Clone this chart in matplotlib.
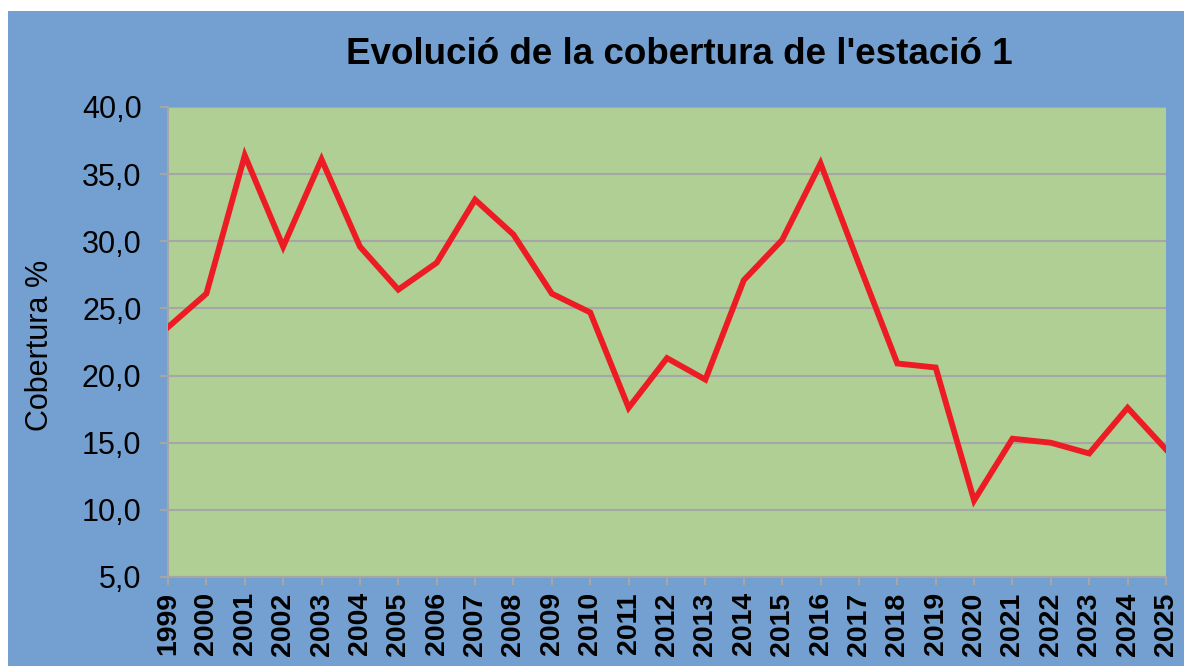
import matplotlib
matplotlib.use("Agg")
import matplotlib.pyplot as plt
from matplotlib.patches import Rectangle

years = list(range(1999, 2026))
cobertura = [23.6, 26.1, 36.4, 29.6, 36.1, 29.6, 26.4, 28.4, 33.1, 30.5,
             26.1, 24.7, 17.6, 21.3, 19.7, 27.1, 30.1, 35.8, 28.3, 20.9,
             20.6, 10.7, 15.3, 15.0, 14.2, 17.6, 14.5]
yticks = [5, 10, 15, 20, 25, 30, 35, 40]
title = "Evolució de la cobertura de l'estació 1"
ylabel = "Cobertura %"

plt.rcParams['font.family'] = ['Liberation Sans', 'DejaVu Sans']

W, H = 1184, 666
fig = plt.figure(figsize=(W / 100, H / 100), dpi=100)
fig.patch.set_facecolor('white')
fig.add_artist(Rectangle((8 / W, 0), 1 - 8 / W, 1 - 11 / H, transform=fig.transFigure,
                         facecolor='#73A0D0', edgecolor='none', zorder=-10))

ax = fig.add_axes([168 / W, 1 - 577 / H, (1166 - 168) / W, (577 - 107) / H])
ax.set_facecolor('#AFCF94')
ax.plot(years, cobertura, color='#ED1C24', lw=4.2, solid_joinstyle='miter', zorder=3)
ax.set_xlim(1999, 2025)
ax.set_ylim(5, 40)
ax.set_yticks(yticks)
ax.set_yticklabels([f"{v:.1f}".replace('.', ',') for v in yticks], fontsize=22)
ax.set_xticks(years)
ax.set_xticklabels([str(y) for y in years], rotation=90, fontsize=20.5, fontweight='bold')
ax.grid(axis='y', color='#A6A6A6', lw=1.5)
ax.set_axisbelow(True)
for s in ['top', 'right']:
    ax.spines[s].set_visible(False)
for s in ['left', 'bottom']:
    ax.spines[s].set_color('#A6A6A6')
    ax.spines[s].set_linewidth(1.5)
ax.tick_params(axis='both', colors='#A6A6A6', length=6, width=1.5, labelcolor='black')
ax.tick_params(axis='y', pad=13)
ax.tick_params(axis='x', pad=5)
fig.text(40 / W, 1 - 345 / H, ylabel, rotation=90, ha='center', va='center', fontsize=22)
fig.text(679 / W, 1 - 55 / H, title, ha='center', va='center', fontsize=26.5, fontweight='bold')

fig.savefig('out.png', dpi=100, facecolor=fig.get_facecolor())
